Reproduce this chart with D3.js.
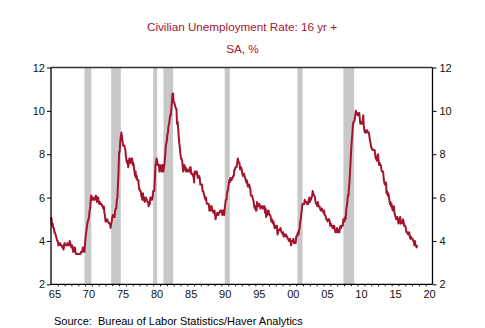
<!DOCTYPE html>
<html><head><meta charset="utf-8">
<script src="https://cdn.jsdelivr.net/npm/d3@7"></script>
<style>html,body{margin:0;padding:0;background:#fff;}svg{display:block;}</style>
</head><body><div id="chart"></div>
<script>
const titleText = "Civilian Unemployment Rate: 16 yr +";
const subtitleText = "SA, %";
const sourceText = "Source:  Bureau of Labor Statistics/Haver Analytics";
const startYear = 1965;
// monthly values, Jan 1965 .. Oct 2018
const rate = [
5.1,5.0,4.7,4.8,4.6,4.6,4.4,4.4,4.3,4.2,4.1,4.0,
4.0,3.8,3.8,3.8,3.9,3.8,3.8,3.8,3.7,3.7,3.6,3.8,
3.9,3.8,3.8,3.8,3.8,3.9,3.8,3.8,3.8,4.0,3.9,3.8,
3.7,3.8,3.7,3.5,3.5,3.7,3.7,3.5,3.4,3.4,3.4,3.4,
3.4,3.4,3.4,3.4,3.4,3.5,3.5,3.5,3.7,3.7,3.5,3.5,
3.9,4.2,4.4,4.6,4.8,4.9,5.0,5.1,5.4,5.5,5.9,6.1,
5.9,5.9,6.0,5.9,5.9,5.9,6.0,6.1,6.0,5.8,6.0,6.0,
5.8,5.7,5.8,5.7,5.7,5.7,5.6,5.6,5.5,5.6,5.3,5.2,
4.9,5.0,4.9,5.0,4.9,4.9,4.8,4.8,4.8,4.6,4.8,4.9,
5.1,5.2,5.1,5.1,5.1,5.4,5.5,5.5,5.9,6.0,6.6,7.2,
8.1,8.1,8.6,8.8,9.0,8.8,8.6,8.4,8.4,8.4,8.3,8.2,
7.9,7.7,7.6,7.7,7.4,7.6,7.8,7.8,7.6,7.7,7.8,7.8,
7.5,7.6,7.4,7.2,7.0,7.2,6.9,7.0,6.8,6.8,6.8,6.4,
6.4,6.3,6.3,6.1,6.0,5.9,6.2,5.9,6.0,5.8,5.9,6.0,
5.9,5.9,5.8,5.8,5.6,5.7,5.7,6.0,5.9,6.0,5.9,6.0,
6.3,6.3,6.3,6.9,7.5,7.6,7.8,7.7,7.5,7.5,7.5,7.2,
7.5,7.4,7.4,7.2,7.5,7.5,7.2,7.4,7.6,7.9,8.3,8.5,
8.6,8.9,9.0,9.3,9.4,9.6,9.8,9.8,10.1,10.4,10.8,10.8,
10.4,10.4,10.3,10.2,10.1,10.1,9.4,9.5,9.2,8.8,8.5,8.3,
8.0,7.8,7.8,7.7,7.4,7.2,7.5,7.5,7.3,7.4,7.2,7.3,
7.3,7.2,7.2,7.3,7.2,7.4,7.4,7.1,7.1,7.1,7.0,7.0,
6.7,7.2,7.2,7.1,7.2,7.2,7.0,6.9,7.0,7.0,6.9,6.6,
6.6,6.6,6.6,6.3,6.3,6.2,6.1,6.0,5.9,6.0,5.8,5.7,
5.7,5.7,5.7,5.4,5.6,5.4,5.4,5.6,5.4,5.4,5.3,5.3,
5.4,5.2,5.0,5.2,5.2,5.3,5.2,5.2,5.3,5.3,5.4,5.4,
5.4,5.3,5.2,5.4,5.4,5.2,5.5,5.7,5.9,5.9,6.2,6.3,
6.4,6.6,6.8,6.7,6.9,6.9,6.8,6.9,6.9,7.0,7.0,7.3,
7.3,7.4,7.4,7.4,7.6,7.8,7.7,7.6,7.6,7.3,7.4,7.4,
7.3,7.1,7.0,7.1,7.1,7.0,6.9,6.8,6.7,6.8,6.6,6.5,
6.6,6.6,6.5,6.4,6.1,6.1,6.1,6.0,5.9,5.8,5.6,5.5,
5.6,5.4,5.4,5.8,5.6,5.6,5.7,5.7,5.6,5.5,5.6,5.6,
5.6,5.5,5.5,5.6,5.6,5.3,5.5,5.1,5.2,5.2,5.4,5.4,
5.3,5.2,5.2,5.1,4.9,5.0,4.9,4.8,4.9,4.7,4.6,4.7,
4.6,4.6,4.7,4.3,4.4,4.5,4.5,4.5,4.6,4.5,4.4,4.4,
4.3,4.4,4.2,4.3,4.2,4.3,4.3,4.2,4.2,4.1,4.1,4.0,
4.0,4.1,4.0,3.8,4.0,4.0,4.0,4.1,3.9,3.9,3.9,3.9,
4.2,4.2,4.3,4.4,4.3,4.5,4.6,4.9,5.0,5.3,5.5,5.7,
5.7,5.7,5.7,5.9,5.8,5.8,5.8,5.7,5.7,5.7,5.9,6.0,
5.8,5.9,5.9,6.0,6.1,6.3,6.2,6.1,6.1,6.0,5.8,5.7,
5.7,5.6,5.8,5.6,5.6,5.6,5.5,5.4,5.4,5.5,5.4,5.4,
5.3,5.4,5.2,5.2,5.1,5.0,5.0,4.9,5.0,5.0,5.0,4.9,
4.7,4.8,4.7,4.7,4.6,4.6,4.7,4.7,4.5,4.4,4.5,4.4,
4.6,4.5,4.4,4.5,4.4,4.6,4.7,4.6,4.7,4.7,4.7,5.0,
5.0,4.9,5.1,5.0,5.4,5.6,5.8,6.1,6.1,6.5,6.8,7.3,
7.8,8.3,8.7,9.0,9.4,9.5,9.5,9.6,9.8,10.0,9.9,9.9,
9.8,9.8,9.9,9.9,9.6,9.4,9.4,9.5,9.5,9.4,9.8,9.3,
9.1,9.0,9.0,9.1,9.0,9.1,9.0,9.0,9.0,8.8,8.6,8.5,
8.3,8.3,8.2,8.2,8.2,8.2,8.2,8.0,7.8,7.8,7.7,7.9,
8.0,7.7,7.5,7.6,7.5,7.5,7.3,7.2,7.2,7.2,6.9,6.7,
6.6,6.7,6.7,6.2,6.3,6.1,6.2,6.1,5.9,5.7,5.8,5.6,
5.7,5.5,5.4,5.4,5.6,5.3,5.2,5.1,5.0,5.0,5.1,5.0,
4.8,4.9,5.0,5.1,4.8,4.9,4.8,4.9,5.0,4.9,4.7,4.7,
4.7,4.6,4.4,4.4,4.4,4.3,4.3,4.4,4.2,4.1,4.2,4.1,
4.1,4.1,4.0,4.0,3.8,4.0,3.8,3.8,3.7,3.8
];
// recessions (start, end) as decimal years
const recStart = [1969.92, 1973.83, 1980.0, 1981.5, 1990.5, 2001.17, 2007.92];
const recEnd   = [1970.92, 1975.25, 1980.58, 1982.92, 1991.25, 2001.92, 2009.5];
const yTicks = [2, 4, 6, 8, 10, 12];
const xLabelYears = [1965,1970,1975,1980,1985,1990,1995,2000,2005,2010,2015,2020];

const W = 485, H = 328;
const pL = 51, pR = 432.5, pT = 67.5, pB = 284.3;
const svg = d3.select("#chart").append("svg").attr("width", W).attr("height", H)
  .style("font-family", "'Liberation Sans', Arial, sans-serif");

const x = d3.scaleLinear().domain([1965, 2021]).range([pL, pR]);
const y = d3.scaleLinear().domain([2, 12]).range([pB, pT]);

const data = rate.map((v, i) => ({ t: startYear + i / 12, v }));

// recession bars
svg.append("g").selectAll("rect").data(recStart).join("rect")
  .attr("x", (d) => x(d))
  .attr("width", (d, i) => x(recEnd[i]) - x(d))
  .attr("y", pT).attr("height", pB - pT)
  .attr("fill", "#c8c8c8");

// line
svg.append("path").datum(data)
  .attr("fill", "none").attr("stroke", "#a3142f").attr("stroke-width", 2)
  .attr("stroke-linejoin", "round")
  .attr("d", d3.line().x((d) => x(d.t)).y((d) => y(d.v)));

// frame
const fr = svg.append("g").attr("stroke", "#000").attr("stroke-width", 1.3);
fr.append("line").attr("x1", pL).attr("x2", pL).attr("y1", pT).attr("y2", pB);
fr.append("line").attr("x1", pR).attr("x2", pR).attr("y1", pT).attr("y2", pB);
fr.append("line").attr("x1", pL).attr("x2", pR).attr("y1", pT).attr("y2", pT).attr("stroke", "#333");
fr.append("line").attr("x1", pL).attr("x2", pR).attr("y1", pB).attr("y2", pB);

// y axes
const yl = svg.append("g").attr("transform", `translate(${pL},0)`)
  .call(d3.axisLeft(y).tickValues(yTicks).tickSize(4).tickPadding(2).tickFormat(d3.format("d")));
const yr = svg.append("g").attr("transform", `translate(${pR},0)`)
  .call(d3.axisRight(y).tickValues(yTicks).tickSize(4).tickPadding(3).tickFormat(d3.format("d")));
[yl, yr].forEach((g) => {
  g.select(".domain").remove();
  g.selectAll("text").attr("font-size", 11).attr("fill", "#111").attr("font-family", "'Liberation Sans', Arial, sans-serif");
  g.selectAll("line").attr("stroke", "#000");
});

// x axis minor ticks at each year
const minorYears = d3.range(1966, 2021);
const xm = svg.append("g").attr("transform", `translate(0,${pB})`)
  .call(d3.axisBottom(x).tickValues(minorYears).tickSize(2).tickFormat(""));
xm.select(".domain").remove();
xm.selectAll("line").attr("stroke", "#000");

// x labels centred on mid-year
const xlab = svg.append("g").attr("transform", `translate(0,${pB})`)
  .call(d3.axisBottom(x).tickValues(xLabelYears.map((d) => d + 0.5)).tickSize(0).tickPadding(6)
    .tickFormat((d) => String(Math.floor(d) % 100).padStart(2, "0")));
xlab.select(".domain").remove();
xlab.selectAll("text").attr("font-size", 11).attr("fill", "#111").attr("font-family", "'Liberation Sans', Arial, sans-serif");

// titles
svg.append("text").attr("x", 242).attr("y", 31).attr("text-anchor", "middle")
  .attr("font-size", 11.7).attr("fill", "#a3142f").text(titleText);
svg.append("text").attr("x", 242.5).attr("y", 52.5).attr("text-anchor", "middle")
  .attr("font-size", 11.7).attr("fill", "#a3142f").text(subtitleText);
svg.append("text").attr("x", 54).attr("y", 325).attr("font-size", 11).attr("fill", "#000")
  .style("white-space", "pre").text(sourceText);
</script></body></html>
